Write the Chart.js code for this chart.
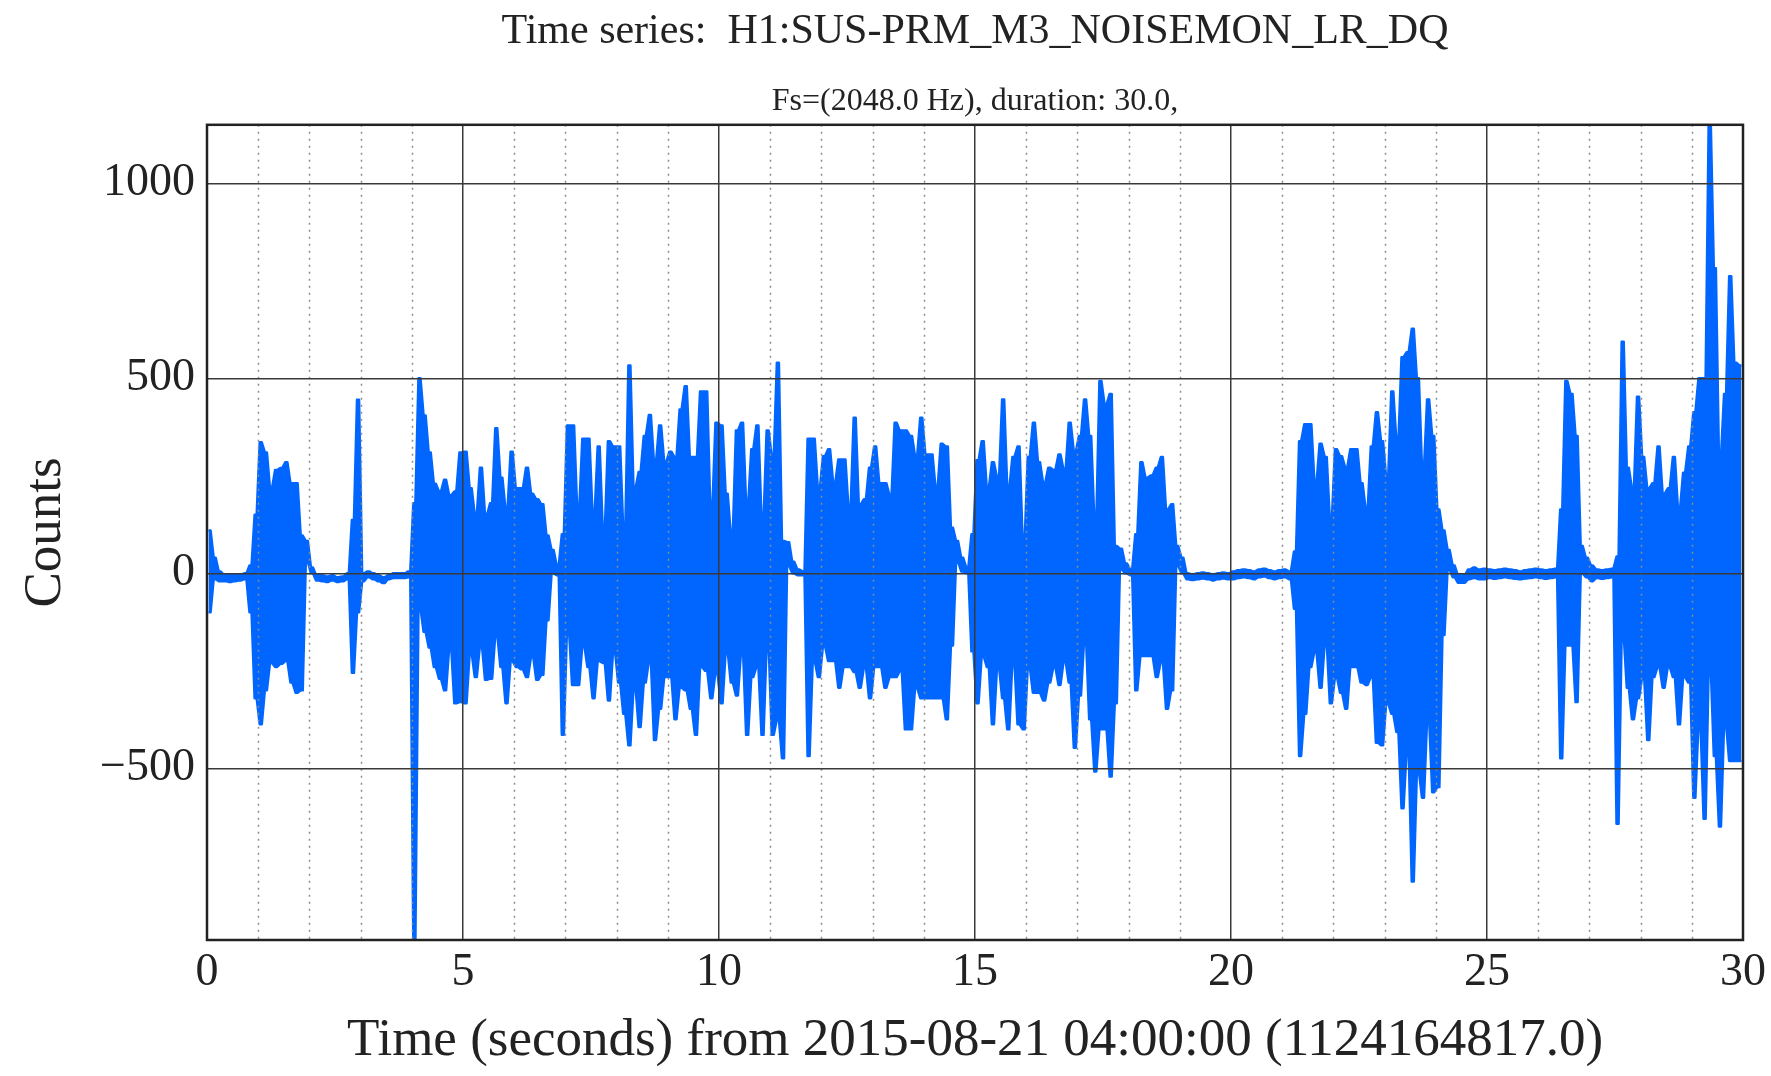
<!DOCTYPE html>
<html>
<head>
<meta charset="utf-8">
<title>Time series: H1:SUS-PRM_M3_NOISEMON_LR_DQ</title>
<script src="https://cdn.jsdelivr.net/npm/chart.js@4.4.1/dist/chart.umd.min.js"></script>
<style>
  html, body { margin: 0; padding: 0; background: #fff; }
  #chart-box { width: 1771px; height: 1076px; }
</style>
</head>
<body>
<div id="chart-box"><canvas id="myChart"></canvas></div>
<script>
let titleText = 'Time series:  H1:SUS-PRM_M3_NOISEMON_LR_DQ';
let subtitleText = 'Fs=(2048.0 Hz), duration: 30.0,';
let xLabel = 'Time (seconds) from 2015-08-21 04:00:00 (1124164817.0)';
let yLabel = 'Counts';

let xRange = [0, 30];
let yRange = [-940, 1150];
let xTicks = [0, 5, 10, 15, 20, 25, 30];
let xMinorTicks = [1, 2, 3, 4, 6, 7, 8, 9, 11, 12, 13, 14, 16, 17, 18, 19, 21, 22, 23, 24, 26, 27, 28, 29];
let yTicks = [-500, 0, 500, 1000];

// max / min of the signal in every 0.1 s bin
let binSize = 0.1;

let upper = [
  // 0 - 5 s
  110, 40, 5, -5, -5, -5, -3, 0, 20, 150,
  336, 310, 218, 265, 270, 285, 231, 231, 97, 83,
  15, -5, -5, -8, -5, -10, -8, 0, 137, 445,
  0, 5, 0, -5, -10, -5, 0, 0, 0, 5,
  180, 500, 405, 310, 230, 210, 240, 200, 210, 310,
  // 5 - 10 s
  312, 218, 150, 271, 150, 180, 372, 245, 164, 312,
  218, 218, 271, 204, 190, 177, 97, 60, 20, 100,
  379, 379, 164, 345, 345, 150, 325, 110, 339, 325,
  325, 110, 533, 218, 260, 352, 406, 285, 379, 285,
  312, 298, 420, 480, 298, 298, 466, 466, 164, 386,
  // 10 - 15 s
  379, 204, 100, 366, 386, 177, 318, 379, 137, 366,
  300, 540, 83, 80, 30, 10, 5, 345, 345, 218,
  300, 318, 231, 292, 292, 164, 399, 177, 190, 271,
  325, 231, 231, 200, 386, 366, 366, 352, 300, 399,
  305, 305, 218, 332, 325, 117, 83, 40, 15, 100,
  // 15 - 20 s
  290, 339, 218, 285, 245, 446, 218, 298, 325, 83,
  298, 386, 285, 231, 271, 265, 305, 265, 386, 312,
  352, 446, 352, 137, 493, 433, 460, 70, 63, 25,
  10, 100, 285, 245, 251, 271, 298, 164, 177, 70,
  40, 0, -2, 0, 2, 0, -3, 0, 2, 0,
  // 20 - 25 s
  5, 8, 10, 8, 5, 10, 12, 8, 5, 8,
  10, 5, 56, 339, 382, 382, 231, 332, 298, 137,
  318, 300, 271, 318, 318, 231, 164, 325, 413, 339,
  245, 466, 339, 554, 567, 627, 500, 271, 446, 352,
  164, 110, 60, 20, -5, -5, 10, 15, 10, 12,
  // 25 - 30 s
  10, 8, 10, 12, 10, 8, 5, 8, 10, 12,
  10, 8, 10, 12, 164, 493, 460, 352, 70, 40,
  20, 10, 8, 10, 12, 43, 594, 271, 218, 453,
  298, 218, 231, 325, 204, 218, 298, 164, 258, 325,
  413, 500, 500, 1160, 782, 298, 460, 762, 540, 533
];

let lower = [
  // 0 - 5 s
  -100, -15, -20, -20, -22, -20, -18, -15, -100, -320,
  -387, -300, -230, -240, -232, -225, -280, -306, -300, 30,
  0, -18, -20, -22, -18, -22, -20, -15, -255, -100,
  -20, -10, -15, -20, -25, -15, -12, -12, -12, -10,
  -950, -90, -150, -190, -240, -270, -300, -190, -333, -330,
  // 5 - 10 s
  -333, -205, -266, -185, -273, -270, -158, -240, -333, -225,
  -240, -246, -266, -212, -273, -260, -120, 0, -5, -414,
  -145, -286, -286, -185, -240, -320, -225, -230, -326, -200,
  -280, -360, -441, -293, -394, -280, -225, -427, -347, -266,
  -266, -374, -293, -300, -347, -414, -240, -250, -320, -253,
  // 10 - 15 s
  -333, -200, -280, -313, -200, -414, -266, -240, -414, -185,
  -414, -374, -474, 20, 0, -5, -5, -468, -225, -266,
  -185, -225, -225, -293, -240, -240, -253, -293, -240, -320,
  -240, -240, -293, -266, -266, -250, -400, -400, -293, -320,
  -320, -320, -320, -320, -374, -185, 30, 5, 0, -200,
  // 15 - 20 s
  -333, -212, -240, -387, -240, -320, -400, -225, -387, -400,
  -240, -306, -306, -326, -280, -240, -286, -225, -280, -447,
  -313, -172, -374, -508, -400, -400, -521, -333, 10, 0,
  -5, -300, -212, -212, -212, -266, -225, -347, -300, 20,
  0, -15, -17, -15, -13, -15, -18, -15, -13, -15,
  // 20 - 25 s
  -15, -12, -10, -12, -15, -10, -8, -12, -15, -12,
  -10, -15, -91, -468, -360, -240, -200, -293, -178, -333,
  -266, -306, -347, -240, -240, -280, -286, -266, -434, -441,
  -333, -360, -407, -602, -454, -790, -508, -575, -374, -561,
  -548, -158, 10, -10, -24, -24, -15, -12, -15, -15,
  // 25 - 30 s
  -12, -14, -12, -10, -12, -14, -15, -13, -12, -10,
  -12, -14, -12, -10, -474, -185, -185, -330, 0, -10,
  -20, -12, -14, -12, -10, -642, -158, -293, -374, -320,
  -266, -427, -266, -240, -293, -240, -266, -387, -266, -280,
  -575, -387, -629, -240, -468, -649, -387, -481, -481, -481
];

let serif = "'Liberation Serif', 'DejaVu Serif', serif";
let traceColor = '#0066ff';

// each bin value is held across the middle of its bin
function buildPoints(values){
  let points = [];
  for (let i = 0; i < values.length; i++) {
    let t = i * binSize;
    points.push({x: t + binSize * 0.3, y: values[i]});
    points.push({x: t + binSize * 0.7, y: values[i]});
  }
  return points;
}

function formatCount(value){
  if (value < 0) {
    return '\u2212' + Math.abs(value);
  }
  return '' + value;
}

// dotted lines on every second that has no label
let minorGrid = {
  id: 'minorGrid',
  afterDatasetsDraw(chart){
    let ctx = chart.ctx;
    let area = chart.chartArea;
    let xScale = chart.scales.x;
    ctx.save();
    ctx.strokeStyle = '#8c8c8c';
    ctx.lineWidth = 1.5;
    ctx.setLineDash([2, 5]);
    for (let i = 0; i < xMinorTicks.length; i++) {
      let px = Math.round(xScale.getPixelForValue(xMinorTicks[i])) + 0.5;
      ctx.beginPath();
      ctx.moveTo(px, area.top);
      ctx.lineTo(px, area.bottom);
      ctx.stroke();
    }
    ctx.restore();
  }
};

// full frame round the plot
let frame = {
  id: 'frame',
  afterDraw(chart){
    let ctx = chart.ctx;
    let area = chart.chartArea;
    ctx.save();
    ctx.strokeStyle = '#222';
    ctx.lineWidth = 2.5;
    ctx.strokeRect(area.left, area.top, area.right - area.left, area.bottom - area.top);
    ctx.restore();
  }
};

function renderChart(){
  const ctx = document.getElementById('myChart');

  new Chart(ctx, {
    type: 'line',
    data: {
      datasets: [{
        label: 'max',
        data: buildPoints(upper),
        borderColor: traceColor,
        backgroundColor: traceColor,
        borderWidth: 2.5,
        borderJoinStyle: 'round',
        pointRadius: 0,
        tension: 0,
        fill: '+1'
      }, {
        label: 'min',
        data: buildPoints(lower),
        borderColor: traceColor,
        backgroundColor: traceColor,
        borderWidth: 2.5,
        borderJoinStyle: 'round',
        pointRadius: 0,
        tension: 0,
        fill: false
      }]
    },
    options: {
      responsive: true,
      maintainAspectRatio: false,
      animation: false,
      events: [],
      layout: { padding: { left: 0, right: 28, top: 0, bottom: 0 } },
      plugins: {
        legend: { display: false },
        tooltip: { enabled: false },
        filler: { propagate: false },
        title: {
          display: true,
          text: titleText,
          fullSize: false,
          color: '#222',
          font: { family: serif, size: 42, weight: 'normal' },
          padding: { top: 7, bottom: 0 }
        },
        subtitle: {
          display: true,
          text: subtitleText,
          fullSize: false,
          color: '#222',
          font: { family: serif, size: 32, weight: 'normal' },
          padding: { top: 25, bottom: 4 }
        }
      },
      scales: {
        x: {
          type: 'linear',
          min: xRange[0],
          max: xRange[1],
          afterBuildTicks: (scale) => { scale.ticks = xTicks.map(v => ({value: v})); },
          afterFit: (scale) => { scale.height = 136; },
          ticks: {
            color: '#222',
            font: { family: serif, size: 46 },
            padding: 5,
            maxRotation: 0,
            autoSkip: false
          },
          grid: { color: '#3a3a3a', lineWidth: 1.5, drawTicks: false, z: 1 },
          border: { display: false },
          title: {
            display: true,
            text: xLabel,
            color: '#222',
            font: { family: serif, size: 53 },
            padding: { top: 0, bottom: 3 }
          }
        },
        y: {
          type: 'linear',
          min: yRange[0],
          max: yRange[1],
          afterBuildTicks: (scale) => { scale.ticks = yTicks.map(v => ({value: v})); },
          afterFit: (scale) => { scale.width = 207; },
          ticks: {
            color: '#222',
            font: { family: serif, size: 46 },
            padding: 12,
            callback: (value) => formatCount(value)
          },
          grid: { color: '#3a3a3a', lineWidth: 1.5, drawTicks: false, z: 1 },
          border: { display: false },
          title: {
            display: true,
            text: yLabel,
            color: '#222',
            font: { family: serif, size: 53 },
            padding: { top: 14, bottom: 0 }
          }
        }
      }
    },
    plugins: [minorGrid, frame]
  });
}

renderChart();
</script>
</body>
</html>
